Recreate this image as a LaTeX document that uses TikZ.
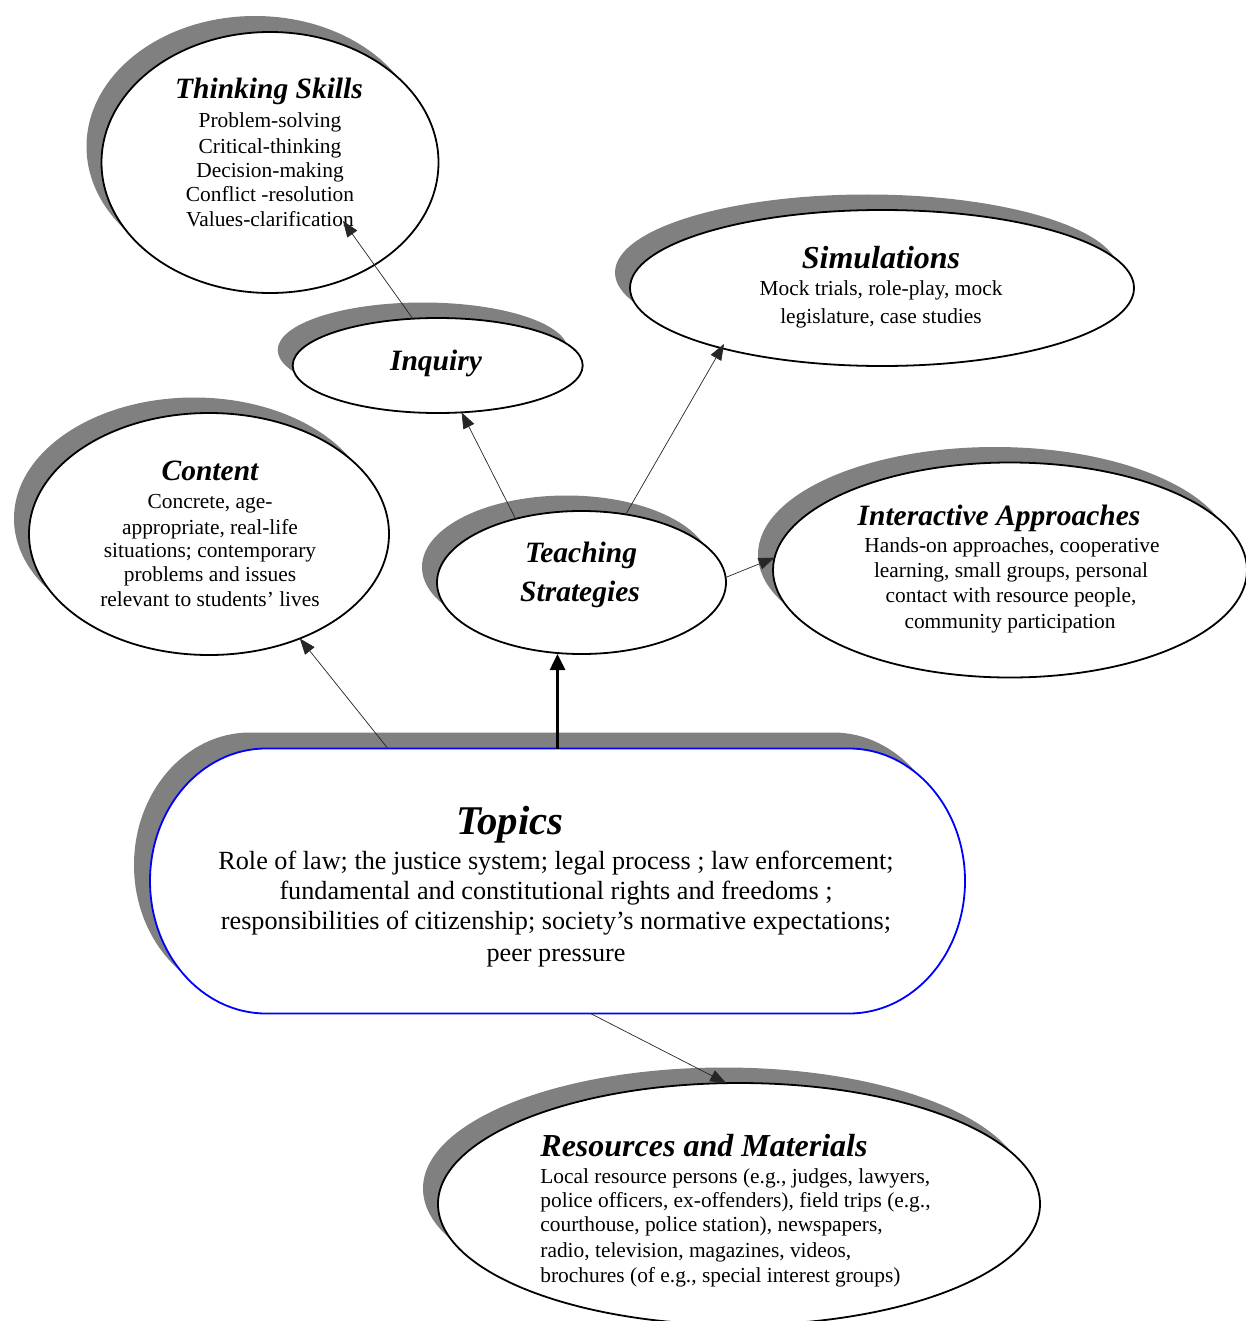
\documentclass[tikz,border=0pt]{standalone}
\usepackage{fontspec}
\setmainfont{Liberation Serif}
\usetikzlibrary{shapes.geometric,arrows.meta}
\definecolor{shadowgray}{gray}{0.5}
\definecolor{topicblue}{RGB}{0,0,255}
\begin{document}
\begin{tikzpicture}[x=0.5pt,y=-0.5pt,
  shad/.style={ellipse, fill=shadowgray, draw=none, inner sep=0pt, outer sep=0pt},
  bub/.style={ellipse, fill=white, draw=black, line width=0.9pt, inner sep=0pt, outer sep=0pt},
  box/.style={rectangle, draw=none, inner sep=0pt, outer sep=0pt, minimum width=407.5pt, minimum height=132.5pt},
  ttl/.style={anchor=base, inner sep=0pt, font=\fontsize{14.75}{17}\selectfont\bfseries\itshape},
  bigttl/.style={anchor=base, inner sep=0pt, font=\fontsize{16}{19}\selectfont\bfseries\itshape},
  body/.style={anchor=base, inner sep=0pt, font=\fontsize{10.7}{13}\selectfont},
  tbody/.style={anchor=base, inner sep=0pt, font=\fontsize{13.1}{15}\selectfont},
  conn/.style={draw=black!85, line width=0.35pt, -{Triangle[length=8pt,width=6pt]}},
  thickconn/.style={draw=black, line width=1.3pt, -{Triangle[length=8pt,width=7.5pt]}}
]
\path[fill=white, use as bounding box] (0,0) rectangle (1246,1321);

% shadows
\node[shad, minimum width=168.5pt, minimum height=130.5pt] (tsS) at (255,146.5) {};
\node[shad, minimum width=252pt, minimum height=78pt] (simS) at (867,272.5) {};
\node[shad, minimum width=145pt, minimum height=47.5pt] (inqS) at (422.7,350) {};
\node[shad, minimum width=180pt, minimum height=121pt] (contS) at (194,518.5) {};
\node[shad, minimum width=144.5pt, minimum height=71.5pt] (teachS) at (566.5,567) {};
\node[shad, minimum width=237pt, minimum height=107.5pt] (interS) at (995,554.5) {};
\node[box] (topS) at (541.5,865) {};
\path[fill=shadowgray] ([xshift=58pt]topS.north west) -- ([xshift=-58pt]topS.north east)
  arc[start angle=90, end angle=-90, x radius=58pt, y radius=66.25pt]
  -- ([xshift=58pt]topS.south west)
  arc[start angle=270, end angle=90, x radius=58pt, y radius=66.25pt] -- cycle;
\node[shad, minimum width=301pt, minimum height=121pt] (resS) at (724,1188.5) {};

% white shapes
\node[bub, minimum width=168.5pt, minimum height=130.5pt] (ts) at (270,162.5) {};
\node[bub, minimum width=252pt, minimum height=78pt] (sim) at (882,288) {};
\node[bub, minimum width=145pt, minimum height=47.5pt] (inq) at (437.7,365.5) {};
\node[bub, minimum width=180pt, minimum height=121pt] (cont) at (209,534) {};
\node[bub, minimum width=144.5pt, minimum height=71.5pt] (teach) at (581.5,582.5) {};
\node[bub, minimum width=237pt, minimum height=107.5pt] (inter) at (1010,570) {};
\node[box] (top) at (557.5,881) {};
\path[fill=white, draw=topicblue, line width=0.9pt] ([xshift=58pt]top.north west) -- ([xshift=-58pt]top.north east)
  arc[start angle=90, end angle=-90, x radius=58pt, y radius=66.25pt]
  -- ([xshift=58pt]top.south west)
  arc[start angle=270, end angle=90, x radius=58pt, y radius=66.25pt] -- cycle;
\node[bub, minimum width=301pt, minimum height=121pt] (res) at (739,1204) {};

% Thinking Skills
\node[ttl] (tsT) at (269,99) {Thinking Skills};
\node[body] (ts1) at (270,128) {Problem-solving};
\node[body] (ts2) at (270,154) {Critical-thinking};
\node[body] (ts3) at (270,178) {Decision-making};
\node[body] (ts4) at (270,202) {Conflict -resolution};
\node[body] (ts5) at (270,227) {Values-clarification};

% Simulations
\node[bigttl] (simT) at (881,269) {Simulations};
\node[body] (sim1) at (881,295) {Mock trials, role-play, mock};
\node[body] (sim2) at (881,323) {legislature, case studies};

% Inquiry
\node[ttl] (inqT) at (436,370) {Inquiry};

% Content
\node[ttl] (contT) at (210,480) {Content};
\node[body] (cont1) at (210,508) {Concrete, age-};
\node[body] (cont2) at (210,534) {appropriate, real-life};
\node[body] (cont3) at (210,557) {situations; contemporary};
\node[body] (cont4) at (210,581) {problems and issues};
\node[body] (cont5) at (210,606) {relevant to students’ lives};

% Teaching Strategies
\node[ttl] (teachT1) at (581,562) {Teaching};
\node[ttl] (teachT2) at (580,601) {Strategies};

% Interactive Approaches
\node[ttl] (interT) at (999,525) {Interactive Approaches};
\node[body] (inter1) at (1012,552.7) {Hands-on approaches, cooperative};
\node[body] (inter2) at (1011,577) {learning, small groups, personal};
\node[body] (inter3) at (1011,602) {contact with resource people,};
\node[body] (inter4) at (1010,628) {community participation};

% Topics
\node[anchor=base, inner sep=0pt, font=\fontsize{20.4}{24}\selectfont\bfseries\itshape] (topT) at (510,834) {Topics};
\node[tbody] (top1) at (556,869) {Role of law; the justice system; legal process ; law enforcement;};
\node[tbody] (top2) at (556,899) {fundamental and constitutional rights and freedoms ;};
\node[tbody] (top3) at (556,929) {responsibilities of citizenship; society’s normative expectations;};
\node[tbody] (top4) at (556,961) {peer pressure};

% Resources and Materials
\node[bigttl, anchor=base west] (resT) at (540,1156) {Resources and Materials};
\node[body, anchor=base west] (res1) at (540,1183) {Local resource persons (e.g., judges, lawyers,};
\node[body, anchor=base west] (res2) at (540,1207) {police officers, ex-offenders), field trips (e.g.,};
\node[body, anchor=base west] (res3) at (540,1231) {courthouse, police station), newspapers,};
\node[body, anchor=base west] (res4) at (540,1257) {radio, television, magazines, videos,};
\node[body, anchor=base west] (res5) at (540,1282) {brochures (of e.g., special interest groups)};

% connector end points
\coordinate (tsTip) at (343,221);
\coordinate (simTip) at (724,344);

% connectors
\draw[conn] (inq.118) -- (tsTip);
\draw[conn] (teach.136) -- (inq.297);
\draw[conn] (teach.57) -- (simTip);
\draw[conn] (teach.2) -- (inter.177);
\draw[conn] (top.142) -- (cont.311);
\draw[thickconn] (top.north) -- (top.north |- teach.south);
\draw[conn] (top.284) -- (res.96.6);
\end{tikzpicture}
\end{document}
